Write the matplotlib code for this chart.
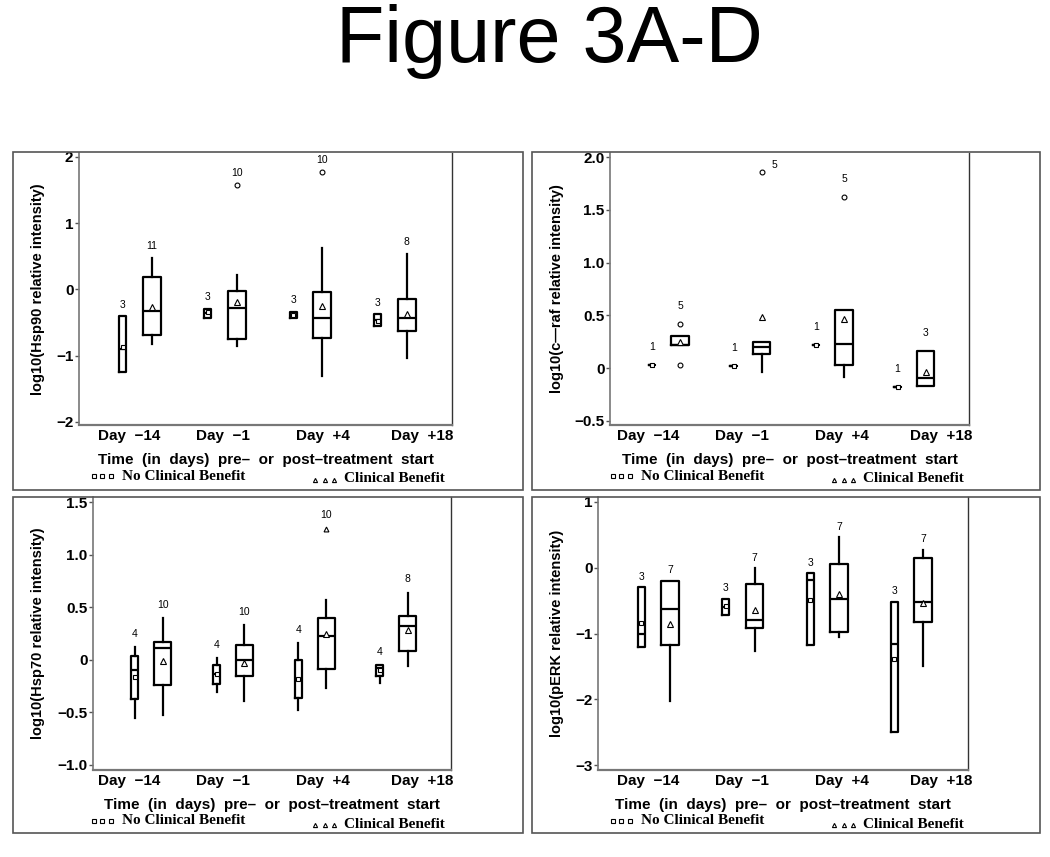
import matplotlib
matplotlib.use("Agg")
import matplotlib.pyplot as plt
from matplotlib.patches import Rectangle
from matplotlib.lines import Line2D

W, H = 1050, 857

days = ["Day  \u221214", "Day  \u22121", "Day  +4", "Day  +18"]

# rows: whisker low, Q1, median, Q3, whisker high, mean
hsp90_ncb = [[-1.25, -1.25, -0.90, -0.41, -0.41, -0.87],
             [-0.43, -0.43, -0.36, -0.29, -0.29, -0.35],
             [-0.44, -0.44, -0.39, -0.34, -0.34, -0.39],
             [-0.56, -0.56, -0.47, -0.38, -0.38, -0.48]]
hsp90_cb = [[-0.82, -0.69, -0.33, 0.19, 0.48, -0.27],
            [-0.85, -0.75, -0.28, -0.02, 0.21, -0.19],
            [-1.31, -0.74, -0.44, -0.04, 0.63, -0.25],
            [-1.04, -0.63, -0.44, -0.14, 0.53, -0.37]]
hsp90_ncb_n = [3, 3, 3, 3]
hsp90_cb_n = [11, 10, 10, 8]
hsp90_ncb_out = [[], [], [], []]
hsp90_cb_out = [[], [1.57], [1.78], []]

craf_ncb = [[0.03, 0.03, 0.03, 0.03, 0.03, 0.03],
            [0.02, 0.02, 0.02, 0.02, 0.02, 0.02],
            [0.22, 0.22, 0.22, 0.22, 0.22, 0.22],
            [-0.18, -0.18, -0.18, -0.18, -0.18, -0.18]]
craf_cb = [[0.22, 0.22, 0.22, 0.30, 0.30, 0.25],
           [-0.04, 0.13, 0.20, 0.25, 0.25, 0.48],
           [-0.08, 0.03, 0.23, 0.55, 0.55, 0.47],
           [-0.17, -0.17, -0.09, 0.16, 0.16, -0.04]]
craf_ncb_n = [1, 1, 1, 1]
craf_cb_n = [5, 5, 5, 3]
craf_ncb_out = [[], [], [], []]
craf_cb_out = [[0.42, 0.03], [1.86], [1.62], []]

hsp70_ncb = [[-0.55, -0.37, -0.10, 0.04, 0.12, -0.16],
             [-0.31, -0.23, -0.14, -0.05, 0.02, -0.14],
             [-0.48, -0.36, -0.18, 0.00, 0.16, -0.18],
             [-0.22, -0.15, -0.08, -0.05, -0.05, -0.10]]
hsp70_cb = [[-0.53, -0.24, 0.11, 0.165, 0.40, -0.01],
            [-0.39, -0.15, 0.00, 0.14, 0.33, -0.03],
            [-0.27, -0.09, 0.23, 0.40, 0.57, 0.25],
            [-0.06, 0.085, 0.32, 0.42, 0.64, 0.28]]
hsp70_ncb_n = [4, 4, 4, 4]
hsp70_cb_n = [10, 10, 10, 8]
hsp70_ncb_out = [[], [], [], []]
hsp70_cb_out = [[], [], [1.25], []]

perk_ncb = [[-1.21, -1.21, -1.01, -0.30, -0.30, -0.84],
            [-0.72, -0.72, -0.60, -0.47, -0.47, -0.58],
            [-1.17, -1.17, -0.19, -0.09, -0.09, -0.49],
            [-2.50, -2.50, -1.16, -0.52, -0.52, -1.39]]
perk_cb = [[-2.03, -1.18, -0.63, -0.20, -0.20, -0.86],
           [-1.26, -0.91, -0.79, -0.25, -0.01, -0.64],
           [-1.06, -0.98, -0.48, 0.06, 0.46, -0.40],
           [-1.50, -0.83, -0.52, 0.14, 0.27, -0.53]]
perk_ncb_n = [3, 3, 3, 3]
perk_cb_n = [7, 7, 7, 7]
perk_ncb_out = [[], [], [], []]
perk_cb_out = [[], [], [], []]

# panel layout in pixels: frame box, axes box (left, top, right, bottom)
panels = [
    dict(ylabel="log10(Hsp90 relative intensity)", ylim=(-2.05, 2.06),
         yticks=[-2, -1, 0, 1, 2], ytl=["\u22122", "\u22121", "0", "1", "2"],
         ncb=hsp90_ncb, cb=hsp90_cb, ncb_n=hsp90_ncb_n, cb_n=hsp90_cb_n,
         ncb_out=hsp90_ncb_out, cb_out=hsp90_cb_out, flier="o", npad=8.6,
         frame=(13, 152, 523, 490), axbox=(79, 153, 452, 425)),
    dict(ylabel="log10(c\u2014raf relative intensity)", ylim=(-0.54, 2.04),
         yticks=[-0.5, 0, 0.5, 1.0, 1.5, 2.0],
         ytl=["\u22120.5", "0", "0.5", "1.0", "1.5", "2.0"],
         ncb=craf_ncb, cb=craf_cb, ncb_n=craf_ncb_n, cb_n=craf_cb_n,
         ncb_out=craf_ncb_out, cb_out=craf_cb_out, flier="o", npad=13,
         frame=(532, 152, 1040, 490), axbox=(610, 153, 969, 425)),
    dict(ylabel="log10(Hsp70 relative intensity)", ylim=(-1.05, 1.55),
         yticks=[-1.0, -0.5, 0, 0.5, 1.0, 1.5],
         ytl=["\u22121.0", "\u22120.5", "0", "0.5", "1.0", "1.5"],
         ncb=hsp70_ncb, cb=hsp70_cb, ncb_n=hsp70_ncb_n, cb_n=hsp70_cb_n,
         ncb_out=hsp70_ncb_out, cb_out=hsp70_cb_out, flier="^", npad=9.4,
         frame=(13, 497, 523, 833), axbox=(93, 497, 451, 770)),
    dict(ylabel="log10(pERK relative intensity)", ylim=(-3.07, 1.07),
         yticks=[-3, -2, -1, 0, 1],
         ytl=["\u22123", "\u22122", "\u22121", "0", "1"],
         ncb=perk_ncb, cb=perk_cb, ncb_n=perk_ncb_n, cb_n=perk_cb_n,
         ncb_out=perk_ncb_out, cb_out=perk_cb_out, flier="o", npad=7.6,
         frame=(532, 497, 1040, 833), axbox=(598, 497, 968, 770)),
]

plt.rcParams["font.family"] = ["Liberation Sans", "DejaVu Sans"]

fig = plt.figure(figsize=(W / 100, H / 100), dpi=100)

def fx(x):
    return x / W

def fy(y):
    return 1 - y / H

fig.text(0.523, fy(62), "Figure 3A-D", fontsize=57, ha="center", va="baseline")

group_x = [0.156, 0.384, 0.613, 0.840]
shift = 0.039
label_off = [116, 210, 310, 409]

for p in panels:
    fl, ft, fr, fb = p["frame"]
    al, at, ar, ab = p["axbox"]
    aw, ah = ar - al, ab - at
    fig.add_artist(Rectangle((fx(fl), fy(fb)), fx(fr - fl), (fb - ft) / H,
                             transform=fig.transFigure, fill=False,
                             edgecolor="#555555", lw=1.2))
    ax = fig.add_axes([fx(al), fy(ab), aw / W, ah / H])

    for grp, side, wid, mk, ms in [("ncb", -1, 0.019, "s", 3.5),
                                  ("cb", 1, 0.048, "^", 4)]:
        rows = p[grp]
        outs = p[grp + "_out"]
        stats = []
        for r, o in zip(rows, outs):
            stats.append(dict(whislo=r[0], q1=r[1], med=r[2], q3=r[3],
                              whishi=r[4], mean=r[5], fliers=o))
        pos = [g + side * shift for g in group_x]
        line = dict(color="black", lw=1.6)
        ax.bxp(stats, positions=pos, widths=wid, showmeans=True,
               showcaps=False, showfliers=True, manage_ticks=False,
               boxprops=line, whiskerprops=line, medianprops=line,
               meanprops=dict(marker=mk, markersize=ms, markerfacecolor="white",
                              markeredgecolor="black", markeredgewidth=0.8),
               flierprops=dict(marker=p["flier"], markersize=3.5,
                               markerfacecolor="white", markeredgecolor="black",
                               markeredgewidth=0.8))
        for i, (r, o, n) in enumerate(zip(rows, outs, p[grp + "_n"])):
            top = max([r[4], r[3]] + o)
            dx, dy = 0, p["npad"]
            if p["ylim"][1] - top < 0.25:
                dx, dy = 9, 5
            ax.annotate(str(n), (pos[i], top), xytext=(dx, dy),
                        textcoords="offset points", ha="center", va="center",
                        fontsize=7.5)

    ax.set_xlim(0, 1)
    ax.set_ylim(*p["ylim"])
    ax.set_yticks(p["yticks"])
    ax.set_yticklabels(p["ytl"], fontsize=11, fontweight="bold")
    ax.set_xticks([(fl + o - al) / aw for o in label_off])
    ax.set_xticklabels(days, fontsize=11, fontweight="bold")
    ax.tick_params(axis="x", length=0, pad=3)
    ax.tick_params(axis="y", length=3, width=1, pad=1, color="#555555")
    ax.spines["top"].set_visible(False)
    ax.spines["right"].set_color("#333333")
    ax.spines["right"].set_linewidth(1)
    ax.spines["left"].set_color("#777777")
    ax.spines["left"].set_linewidth(1.2)
    ax.spines["bottom"].set_color("#777777")
    ax.spines["bottom"].set_linewidth(1.6)

    ax.text((fl + 25 - al) / aw, 0.5, p["ylabel"], transform=ax.transAxes,
            rotation=90, ha="center", va="center", fontsize=10.5,
            fontweight="bold")
    ax.text(0.5, -35 / ah, "Time  (in  days)  pre\u2013  or  post\u2013treatment  start",
            transform=ax.transAxes, ha="center", va="center", fontsize=11,
            fontweight="bold")

    # legend row under the axis title
    for dxm in [81, 89, 98]:
        fig.add_artist(Line2D([fx(fl + dxm)], [fy(ft + 324)], marker="s",
                              markersize=3, markerfacecolor="white",
                              markeredgecolor="black", markeredgewidth=0.8,
                              transform=fig.transFigure))
    for dxm in [302, 312, 321]:
        fig.add_artist(Line2D([fx(fl + dxm)], [fy(ft + 328)], marker="^",
                              markersize=3, markerfacecolor="white",
                              markeredgecolor="black", markeredgewidth=0.8,
                              transform=fig.transFigure))
    fig.text(fx(fl + 109), fy(ft + 324), "No Clinical Benefit",
             family=["Liberation Serif", "DejaVu Serif"], fontweight="bold",
             fontsize=11, ha="left", va="center")
    fig.text(fx(fl + 331), fy(ft + 327), "Clinical Benefit",
             family=["Liberation Serif", "DejaVu Serif"], fontweight="bold",
             fontsize=11, ha="left", va="center")

fig.savefig("out.png", dpi=100)
